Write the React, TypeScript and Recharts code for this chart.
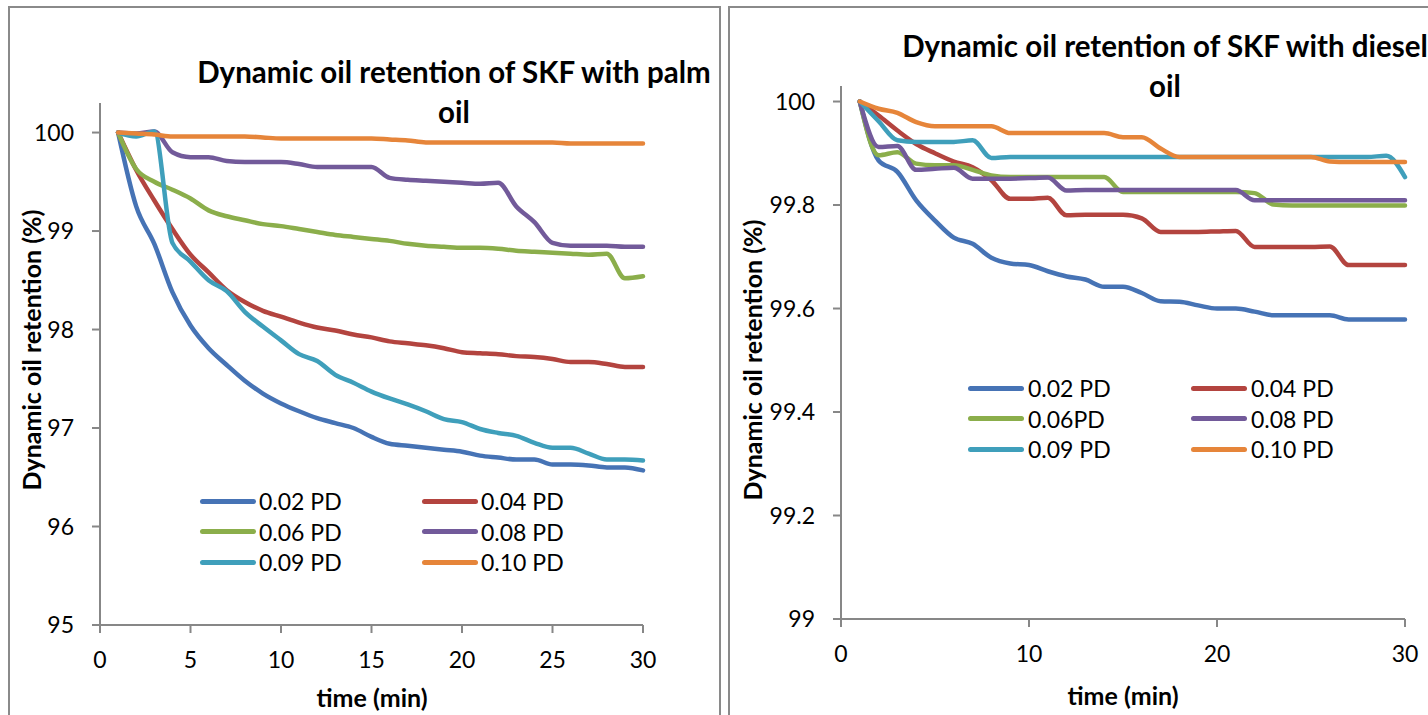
import { Legend, Line, LineChart, XAxis, YAxis } from 'recharts';

const FONT = 'Lato, "Open Sans", sans-serif';

const times = [1, 2, 3, 4, 5, 6, 7, 8, 9, 10, 11, 12, 13, 14, 15, 16, 17, 18, 19, 20, 21, 22, 23, 24, 25, 26, 27, 28, 29, 30];

// palm oil (left chart)
const palm002 = [100, 99.25, 98.87, 98.38, 98.04, 97.81, 97.64, 97.48, 97.35, 97.25, 97.17, 97.1, 97.05, 97.0, 96.91, 96.84, 96.82, 96.8, 96.78, 96.76, 96.72, 96.7, 96.68, 96.68, 96.63, 96.63, 96.62, 96.6, 96.6, 96.57];
const palm004 = [100, 99.62, 99.31, 99.02, 98.76, 98.58, 98.4, 98.28, 98.19, 98.13, 98.07, 98.02, 97.99, 97.95, 97.92, 97.88, 97.86, 97.84, 97.81, 97.77, 97.76, 97.75, 97.73, 97.72, 97.7, 97.67, 97.67, 97.65, 97.62, 97.62];
const palm006 = [100, 99.63, 99.5, 99.42, 99.33, 99.21, 99.15, 99.11, 99.07, 99.05, 99.02, 98.99, 98.96, 98.94, 98.92, 98.9, 98.87, 98.85, 98.84, 98.83, 98.83, 98.82, 98.8, 98.79, 98.78, 98.77, 98.76, 98.77, 98.52, 98.54];
const palm008 = [100, 99.99, 100.01, 99.8, 99.75, 99.75, 99.71, 99.7, 99.7, 99.7, 99.68, 99.65, 99.65, 99.65, 99.65, 99.54, 99.52, 99.51, 99.5, 99.49, 99.48, 99.49, 99.25, 99.09, 98.88, 98.85, 98.85, 98.85, 98.84, 98.84];
const palm009 = [100, 99.96, 100.01, 98.88, 98.69, 98.5, 98.39, 98.18, 98.03, 97.89, 97.75, 97.68, 97.54, 97.46, 97.37, 97.3, 97.24, 97.17, 97.09, 97.06, 96.99, 96.95, 96.92, 96.85, 96.8, 96.8, 96.74, 96.68, 96.68, 96.67];
const palm010 = [100, 99.99, 99.98, 99.96, 99.96, 99.96, 99.96, 99.96, 99.95, 99.94, 99.94, 99.94, 99.94, 99.94, 99.94, 99.93, 99.92, 99.9, 99.9, 99.9, 99.9, 99.9, 99.9, 99.9, 99.9, 99.89, 99.89, 99.89, 99.89, 99.89];

// diesel oil (right chart)
const diesel002 = [100, 99.886, 99.864, 99.809, 99.77, 99.737, 99.725, 99.698, 99.687, 99.684, 99.672, 99.662, 99.656, 99.642, 99.642, 99.63, 99.614, 99.613, 99.606, 99.6, 99.6, 99.594, 99.587, 99.587, 99.587, 99.587, 99.579, 99.579, 99.579, 99.579];
const diesel004 = [100, 99.973, 99.944, 99.918, 99.9, 99.884, 99.873, 99.848, 99.812, 99.812, 99.814, 99.78, 99.781, 99.781, 99.781, 99.774, 99.748, 99.748, 99.748, 99.749, 99.75, 99.719, 99.719, 99.719, 99.719, 99.72, 99.684, 99.684, 99.684, 99.684];
const diesel006 = [100, 99.896, 99.902, 99.88, 99.877, 99.877, 99.868, 99.857, 99.854, 99.854, 99.854, 99.854, 99.854, 99.854, 99.825, 99.825, 99.825, 99.825, 99.825, 99.825, 99.825, 99.823, 99.801, 99.799, 99.799, 99.799, 99.799, 99.799, 99.799, 99.799];
const diesel008 = [100, 99.912, 99.914, 99.868, 99.87, 99.872, 99.851, 99.851, 99.851, 99.852, 99.853, 99.828, 99.829, 99.829, 99.829, 99.829, 99.829, 99.829, 99.829, 99.829, 99.829, 99.809, 99.809, 99.809, 99.809, 99.809, 99.809, 99.809, 99.809, 99.809];
const diesel009 = [100, 99.962, 99.925, 99.922, 99.922, 99.922, 99.925, 99.891, 99.893, 99.893, 99.893, 99.893, 99.893, 99.893, 99.893, 99.893, 99.893, 99.893, 99.893, 99.893, 99.893, 99.893, 99.893, 99.893, 99.893, 99.893, 99.893, 99.893, 99.895, 99.854];
const diesel010 = [100, 99.986, 99.978, 99.96, 99.952, 99.952, 99.952, 99.952, 99.939, 99.939, 99.939, 99.939, 99.939, 99.939, 99.931, 99.931, 99.909, 99.893, 99.893, 99.893, 99.893, 99.893, 99.893, 99.893, 99.893, 99.884, 99.883, 99.883, 99.883, 99.883];

const keys = ['pd002', 'pd004', 'pd006', 'pd008', 'pd009', 'pd010'];
const palmNames = ['0.02 PD', '0.04 PD', '0.06 PD', '0.08 PD', '0.09 PD', '0.10 PD'];
const dieselNames = ['0.02 PD', '0.04 PD', '0.06PD', '0.08 PD', '0.09 PD', '0.10 PD'];
const colors = ['#4673B5', '#B3443F', '#8BAE4B', '#725A9A', '#3F9FBB', '#E6853A'];

const palmYTicks = [95, 96, 97, 98, 99, 100];
const palmXTicks = [0, 5, 10, 15, 20, 25, 30];
const dieselYTicks = [99, 99.2, 99.4, 99.6, 99.8, 100];
const dieselXTicks = [0, 10, 20, 30];

function buildRows(series: number[][]) {
  return times.map((t, i) => {
    const row: Record<string, number> = { t };
    keys.forEach((k, j) => {
      row[k] = series[j][i];
    });
    return row;
  });
}

const palmData = buildRows([palm002, palm004, palm006, palm008, palm009, palm010]);
const dieselData = buildRows([diesel002, diesel004, diesel006, diesel008, diesel009, diesel010]);

const axisColor = '#878787';
const tickStyle = { fill: '#000', fontSize: 23, fontFamily: FONT };

function GridLegend({ names, colWidth, gap }: { names: string[]; colWidth: number; gap: number }) {
  return (
    <div style={{ display: 'grid', gridTemplateColumns: `${colWidth}px ${colWidth}px`, fontFamily: FONT, fontSize: 23, color: '#000' }}>
      {names.map((n, i) => (
        <div key={n + i} style={{ display: 'flex', alignItems: 'center', height: 30.5 }}>
          <span style={{ display: 'inline-block', width: 56, height: 5, borderRadius: 3, background: colors[i], marginRight: gap }} />
          <span style={{ whiteSpace: 'nowrap' }}>{n}</span>
        </div>
      ))}
    </div>
  );
}

interface PanelProps {
  left: number;
  width: number;
  data: Record<string, number>[];
  names: string[];
  yDomain: [number, number];
  yTicks: number[];
  xTicks: number[];
  margin: { top: number; right: number; bottom: number; left: number };
  legendLeft: number;
  legendTop: number;
  colWidth: number;
  gap: number;
}

function Panel(p: PanelProps) {
  return (
    <div style={{ position: 'absolute', left: p.left, top: 0 }}>
      <LineChart width={p.width} height={715} data={p.data} margin={p.margin}>
        <XAxis
          dataKey="t"
          type="number"
          domain={[0, 30]}
          ticks={p.xTicks}
          interval={0}
          height={60}
          tickSize={8}
          tickMargin={19}
          axisLine={{ stroke: axisColor, strokeWidth: 2 }}
          tickLine={{ stroke: axisColor, strokeWidth: 2 }}
          tick={tickStyle}
        />
        <YAxis
          type="number"
          domain={p.yDomain}
          ticks={p.yTicks}
          interval={0}
          width={60}
          tickSize={8}
          tickMargin={18}
          allowDataOverflow
          axisLine={{ stroke: axisColor, strokeWidth: 2 }}
          tickLine={{ stroke: axisColor, strokeWidth: 2 }}
          tick={tickStyle}
          tickFormatter={(v: number) => String(v)}
        />
        <Legend
          layout="horizontal"
          verticalAlign="middle"
          align="center"
          wrapperStyle={{ left: p.legendLeft, top: p.legendTop, width: p.colWidth * 2 }}
          content={() => <GridLegend names={p.names} colWidth={p.colWidth} gap={p.gap} />}
        />
        {keys.map((k, i) => (
          <Line
            key={k}
            dataKey={k}
            name={p.names[i]}
            type="monotone"
            stroke={colors[i]}
            strokeWidth={4.5}
            strokeLinejoin="round"
            strokeLinecap="round"
            dot={false}
            isAnimationActive={false}
          />
        ))}
      </LineChart>
    </div>
  );
}

const titleStyle = {
  position: 'absolute' as const,
  fontFamily: FONT,
  fontWeight: 700,
  fontSize: 29.5,
  lineHeight: '40px',
  textAlign: 'center' as const,
  whiteSpace: 'nowrap' as const,
  transform: 'translateX(-50%)',
  color: '#000',
};

const axisTitleStyle = {
  position: 'absolute' as const,
  fontFamily: FONT,
  fontWeight: 700,
  fontSize: 25,
  lineHeight: 1,
  whiteSpace: 'nowrap' as const,
  color: '#000',
};

export default function App() {
  return (
    <div style={{ position: 'absolute', left: 0, top: 0, width: 1428, height: 715, overflow: 'hidden', background: '#fff' }}>
      <div style={{ position: 'absolute', left: 8, top: 6, width: 713, height: 760, border: '2px solid #8a8a8a', boxSizing: 'border-box' }} />
      <div style={{ position: 'absolute', left: 728, top: 6, width: 760, height: 760, border: '2px solid #8a8a8a', boxSizing: 'border-box' }} />

      <Panel
        left={0}
        width={720}
        data={palmData}
        names={palmNames}
        yDomain={[95, 100.3]}
        yTicks={palmYTicks}
        xTicks={palmXTicks}
        margin={{ top: 103, right: 77, bottom: 30, left: 40 }}
        legendLeft={200}
        legendTop={486}
        colWidth={222}
        gap={3}
      />
      <Panel
        left={720}
        width={708}
        data={dieselData}
        names={dieselNames}
        yDomain={[99, 100.03]}
        yTicks={dieselYTicks}
        xTicks={dieselXTicks}
        margin={{ top: 86, right: 23, bottom: 36, left: 61 }}
        legendLeft={248}
        legendTop={373}
        colWidth={223}
        gap={4}
      />

      <div style={{ ...titleStyle, left: 454, top: 52 }}>
        Dynamic oil retention of SKF with palm
        <br />
        oil
      </div>
      <div style={{ ...titleStyle, left: 1165, top: 26 }}>
        Dynamic oil retention of SKF with diesel
        <br />
        oil
      </div>

      <div style={{ ...axisTitleStyle, left: 31, top: 350, transform: 'translate(-50%, -50%) rotate(-90deg)' }}>
        Dynamic oil retention (%)
      </div>
      <div style={{ ...axisTitleStyle, left: 752, top: 360, transform: 'translate(-50%, -50%) rotate(-90deg)' }}>
        Dynamic oil retention (%)
      </div>
      <div style={{ ...axisTitleStyle, left: 372, top: 697, transform: 'translate(-50%, -50%)' }}>time (min)</div>
      <div style={{ ...axisTitleStyle, left: 1123, top: 695, transform: 'translate(-50%, -50%)' }}>time (min)</div>
    </div>
  );
}
